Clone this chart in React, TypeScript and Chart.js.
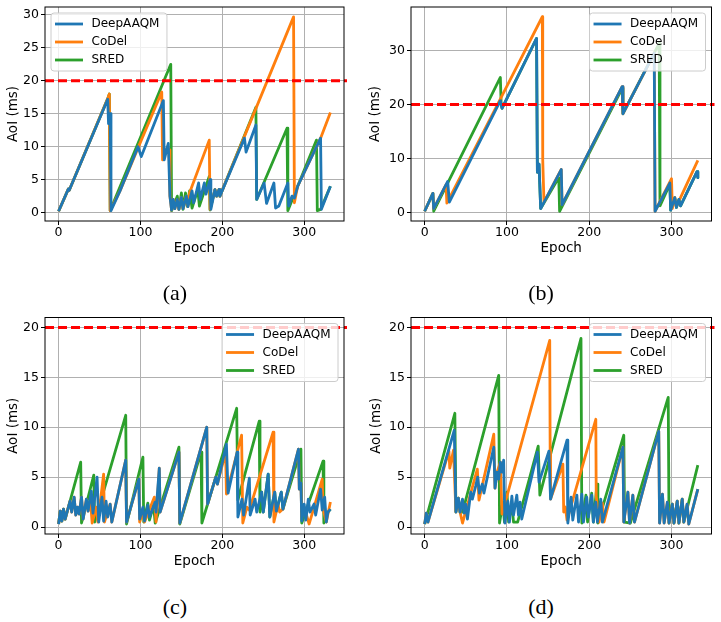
import React, { useEffect, useRef } from "react";
import { Chart, registerables } from "chart.js";

Chart.register(...registerables);

type Pt = [number, number];

// ---------- data ----------
const SERIES_NAMES = ["DeepAAQM", "CoDel", "SRED"];
const THRESHOLD_MS = 20;
const X_TICKS = [0, 100, 200, 300];
const Y_TICKS_A = [0, 5, 10, 15, 20, 25, 30];
const Y_TICKS_B = [0, 10, 20, 30];
const Y_TICKS_CD = [0, 5, 10, 15, 20];
const CAPTIONS = ["(a)", "(b)", "(c)", "(d)"];

const A_DEEPAAQM: Pt[] = [[0,0.2],[12,3.6],[13,3.4],[60,17.2],[61,13.5],[63,15],[64,0.3],[75,3.3],[97,10],[101,8.5],[128,17],[129,8],[134,10.5],[136,2.5],[138,0.4],[140,2],[142,0.6],[145,2],[147,0.5],[150,2.3],[152,0.6],[156,2.5],[158,0.9],[163,3.3],[165,1.5],[171,4.5],[173,2],[178,4.5],[180,2.8],[185,5],[186,0.5],[191,3.5],[193,2.5],[196,3.5],[197,2.5],[227,11.3],[229,9.2],[241,13.3],[242,2],[251,4.5],[254,1.4],[263,4.5],[265,0.7],[269,1],[280,4.5],[281,1],[285,2.5],[288,2.2],[292,4],[320,11.3],[321,0.5],[332,4]];
const A_CODEL: Pt[] = [[0,0.2],[12,3.6],[13,3.4],[60,17.3],[62,18],[63,0.3],[75,3.3],[100,10.7],[126,18.3],[127,8],[133,10],[135,9.5],[136,2.5],[138,0.4],[140,2],[142,0.6],[145,2],[147,0.5],[150,2.3],[152,0.6],[156,2.5],[158,0.9],[160,3],[184,11],[185,0.5],[191,3.5],[193,2.5],[196,3.5],[197,2.5],[287,29.7],[288,1.5],[292,4],[320,11.3],[332,15.2]];
const A_SRED: Pt[] = [[0,0.2],[12,3.6],[13,3.4],[60,17.3],[62,18],[63,0.3],[137,22.5],[138,0.3],[145,2.5],[147,0.5],[150,3],[152,0.5],[155,3],[157,1],[160,3.3],[163,0.7],[170,3.5],[172,1],[184,5.5],[185,0.4],[191,3.5],[193,2.5],[196,3.5],[197,2.5],[241,16],[242,2],[279,12.8],[280,0.3],[292,4],[315,11],[316,0.3],[320,0.5],[332,4]];

const B_DEEPAAQM: Pt[] = [[0,0.3],[10,3.6],[11,0.8],[28,5.8],[30,2],[92,20.7],[94,19.3],[136,32.2],[137,7.5],[139,9],[141,0.8],[166,8],[167,1.5],[240,23.3],[241,18.3],[279,29.5],[280,0.3],[298,5.5],[299,0.5],[304,2.8],[306,1],[309,2.5],[311,1.3],[331,7.6],[332,6.5]];
const B_CODEL: Pt[] = [[0,0.3],[10,3.6],[11,0.8],[26,5.2],[27,1.8],[93,21.3],[143,36.2],[143.5,9.8],[145,2],[166,8],[167,1.5],[240,23.3],[241,18.3],[279,29.5],[280,0.3],[300,6.3],[301,0.8],[304,2.8],[306,1.2],[332,9.7]];
const B_SRED: Pt[] = [[0,0.3],[10,3.6],[11,0.3],[92,25],[93,20],[94,19.3],[136,32.2],[137,7.5],[139,9],[141,0.8],[163,6.5],[164,0.3],[240,23],[241,18.3],[285,31.3],[286,1.3],[298,5.3],[299,0.5],[304,2.8],[306,1],[309,2.5],[311,1.3],[331,7.6],[332,6.5]];

const C_DEEPAAQM: Pt[] = [[0,0.3],[2,1.6],[4,0.6],[6,1.8],[8,0.8],[14,2.6],[16,1.5],[19,3],[21,1.2],[23,2],[25,1.3],[28,3],[30,0.8],[34,2.8],[36,1.6],[40,3.6],[42,1.4],[47,5],[49,0.5],[53,3],[55,0.6],[58,2.6],[60,1],[63,2.3],[65,0.5],[82,6.7],[83,0.5],[98,4.8],[99,0.8],[103,2],[105,0.6],[109,2.2],[111,1],[118,2.5],[119,1.5],[123,5.9],[124,1.5],[147,7.5],[148,0.4],[181,10],[182,2.3],[192,5],[194,4.3],[205,8.3],[207,3.4],[218,7.5],[219,1],[224,2.8],[226,1.2],[233,4.9],[234,1.2],[240,2.8],[242,1.5],[248,3.5],[250,1.5],[256,5.3],[258,1],[264,3.5],[266,1.6],[272,3.5],[274,1.8],[293,7.8],[294,3.8],[296,4.4],[297,0.6],[300,2.3],[302,0.7],[305,2.8],[307,1.5],[312,2.3],[314,1.2],[320,3.8],[322,1.7],[325,3],[327,0.5],[329,1.5],[332,1.8]];
const C_CODEL: Pt[] = [[0,0.3],[2,1.6],[4,0.6],[6,1.8],[8,0.8],[14,2.6],[16,1.5],[19,3],[21,1.2],[23,2],[25,1.3],[28,3],[30,0.8],[34,2.8],[36,1.6],[39,2.6],[41,0.4],[46,2],[48,0.5],[55,5.3],[56,0.5],[63,2.3],[65,0.5],[82,6.7],[83,0.5],[98,4.8],[99,0.5],[103,1.5],[105,0.5],[117,3],[119,0.5],[123,5.9],[124,1.5],[147,7.5],[148,0.4],[181,10],[182,2.3],[192,5],[194,4.3],[204,7.5],[205,3.3],[223.5,9.2],[225,0.4],[230,2],[233,1.7],[262,9.5],[263,0.5],[268,2.3],[270,1.5],[274,1.8],[293,7.8],[294,3.8],[296,4.4],[297,1],[300,2],[306,0.3],[322,4.8],[323,1.8],[327,0.5],[332,2.5]];
const C_SRED: Pt[] = [[0,0.3],[2,1.6],[4,0.6],[6,1.8],[8,0.8],[27,6.5],[28,0.4],[43,5.2],[44,0.5],[82,11.2],[83,0.3],[103,7],[104,0.5],[109,2.4],[111,0.7],[116,2.2],[118,0.4],[147,8],[148,0.3],[174,7.5],[175,0.4],[217.5,11.9],[219,2.7],[245,10.6],[246,1.5],[248,3.5],[250,1.5],[256,5.3],[258,1],[264,3.5],[266,1.6],[272,3.5],[274,1.8],[296,7.8],[297,0.4],[323,6.6],[324,0.4],[329,1.5],[332,1.8]];

const D_DEEPAAQM: Pt[] = [[0,0.3],[2,1.4],[4,0.5],[36,9.7],[38,1.5],[41,2.9],[43,1.5],[46,2.8],[48,1.4],[50,2.3],[52,0.8],[56,3.5],[58,2.8],[62,4.1],[64.5,5],[66.5,3.4],[70,4.3],[72,3.4],[84,8],[85.5,3.9],[88,5.5],[90,4.8],[92,6.5],[94,5.5],[96,6.7],[97.5,0.4],[101,2.6],[103,0.5],[106,3.1],[108,1.2],[112,3.2],[114,1.2],[116,2.5],[118,0.8],[137,7.5],[139,4.5],[151,7.6],[153,2.8],[173,8.7],[174,0.4],[178,3],[180,0.7],[185,3.2],[187,0.5],[191,3.3],[193,0.5],[197,3],[199,1],[203,3.2],[205,0.5],[208,2.5],[210,0.5],[214,2.8],[216,0.5],[241,8],[242,0.5],[247,3.5],[249,0.4],[253,3.2],[255,0.5],[284.5,9.6],[285.5,0.4],[289,3.3],[291,0.4],[295,2.5],[297,0.4],[301,2.3],[303,0.4],[307,2.6],[309,0.4],[313,2.8],[315,0.5],[319,2.3],[321,0.3],[332,3.8]];
const D_CODEL: Pt[] = [[0,0.3],[2,1.4],[4,0.5],[29.5,7.6],[30.5,5.9],[35,7.7],[38,1.5],[41,2.9],[43,1.5],[46,0.4],[64,5.8],[66,2.7],[84,9.3],[85.5,3.9],[88,5.5],[92,6.5],[94,1.3],[152,18.7],[152.5,7.8],[153,2.8],[168,6.3],[169,1.5],[171,2],[173,0.7],[208,10.8],[208.5,3.1],[212,0.5],[216,2.4],[218,0.5],[241,8],[242,0.5],[247,3.5],[249,0.4],[253,3.2],[255,0.5],[284.5,9.6],[285.5,0.4],[289,3.3],[291,0.4],[295,2.5],[297,0.4],[301,2.3],[303,0.4],[307,2.6],[309,0.4],[313,2.8],[315,0.5],[319,2.3],[321,0.3],[332,3.8]];
const D_SRED: Pt[] = [[0,0.3],[36.7,11.4],[38,1.5],[41,2.9],[43,1.5],[46,1.5],[90,15.2],[91,0.4],[95,2.5],[97,0.5],[100,3.5],[102,0.5],[106,2.3],[108,0.5],[113,0.5],[138,8.1],[140,3.2],[190,18.9],[191,0.4],[196,3.2],[198,0.5],[203,3.4],[205,0.5],[209.5,4.3],[210.5,0.4],[242,9.2],[243,0.5],[250,0.4],[296,13],[297,0.4],[301,2.3],[303,0.4],[307,2.6],[309,0.4],[313,2.8],[315,0.5],[332,6.2]];

// ---------- styles / layout ----------
const COLORS = ["#1f77b4", "#ff7f0e", "#2ca02c"];
const FONT = "DejaVu Sans";
const TICK_SIZE = 12.5;
const TITLE_SIZE = 13.5;
const LEGEND_SIZE = 12;
const LINE_W = 2.8;

type PanelCfg = {
  rect: [number, number, number, number];
  area: [number, number, number, number];
  xRange: [number, number];
  yRange: [number, number];
  yTicks: number[];
  series: Pt[][];
  legend: "left" | "right";
  yTitleX: number;
  xTitleY: number;
  caption: string;
  capX: number;
  capY: number;
};

const PANELS: PanelCfg[] = [
  { rect: [0, 0, 360, 262], area: [45, 7, 344, 221], xRange: [-16.6, 348.6], yRange: [-1.27, 31.2], yTicks: Y_TICKS_A, series: [A_DEEPAAQM, A_CODEL, A_SRED], legend: "left", yTitleX: 13, xTitleY: 248, caption: CAPTIONS[0], capX: 175, capY: 293 },
  { rect: [360, 0, 361, 262], area: [411, 7, 711.5, 221], xRange: [-16.6, 348.6], yRange: [-1.5, 38], yTicks: Y_TICKS_B, series: [B_DEEPAAQM, B_CODEL, B_SRED], legend: "right", yTitleX: 375, xTitleY: 248, caption: CAPTIONS[1], capX: 541, capY: 293 },
  { rect: [0, 300, 360, 276], area: [45, 317.5, 344, 534], xRange: [-16.6, 348.6], yRange: [-0.7, 21], yTicks: Y_TICKS_CD, series: [C_DEEPAAQM, C_CODEL, C_SRED], legend: "right", yTitleX: 13, xTitleY: 561.5, caption: CAPTIONS[2], capX: 175, capY: 607 },
  { rect: [360, 300, 361, 276], area: [411, 317.5, 711.5, 534], xRange: [-16.6, 348.6], yRange: [-0.7, 21], yTicks: Y_TICKS_CD, series: [D_DEEPAAQM, D_CODEL, D_SRED], legend: "right", yTitleX: 376, xTitleY: 561.5, caption: CAPTIONS[3], capX: 541, capY: 607 },
];

function drawLegend(chart: any, side: "left" | "right") {
  const { ctx, chartArea } = chart;
  ctx.save();
  ctx.font = `${LEGEND_SIZE}px "${FONT}"`;
  const textW = Math.max(...SERIES_NAMES.map((n) => ctx.measureText(n).width));
  const w = 4 + 28 + 8.5 + textW + 7.5;
  const h = 58;
  const x0 = side === "left" ? chartArea.left + 6 : chartArea.right - 6 - w;
  const y0 = chartArea.top + 6;
  const r = 3;
  ctx.beginPath();
  ctx.moveTo(x0 + r, y0);
  ctx.lineTo(x0 + w - r, y0);
  ctx.arcTo(x0 + w, y0, x0 + w, y0 + r, r);
  ctx.lineTo(x0 + w, y0 + h - r);
  ctx.arcTo(x0 + w, y0 + h, x0 + w - r, y0 + h, r);
  ctx.lineTo(x0 + r, y0 + h);
  ctx.arcTo(x0, y0 + h, x0, y0 + h - r, r);
  ctx.lineTo(x0, y0 + r);
  ctx.arcTo(x0, y0, x0 + r, y0, r);
  ctx.closePath();
  ctx.fillStyle = "rgba(255,255,255,0.8)";
  ctx.fill();
  ctx.strokeStyle = "#cccccc";
  ctx.lineWidth = 1;
  ctx.stroke();
  SERIES_NAMES.forEach((name, i) => {
    const y = y0 + 11 + 18 * i;
    ctx.beginPath();
    ctx.strokeStyle = COLORS[i];
    ctx.lineWidth = LINE_W;
    ctx.moveTo(x0 + 4, y);
    ctx.lineTo(x0 + 32, y);
    ctx.stroke();
    ctx.fillStyle = "#000";
    ctx.textBaseline = "middle";
    ctx.textAlign = "left";
    ctx.fillText(name, x0 + 40.5, y);
  });
  ctx.restore();
}

function Panel({ cfg }: { cfg: PanelCfg }) {
  const ref = useRef<HTMLCanvasElement>(null);
  const [L, T, W, H] = cfg.rect;
  const [cl, ct, cr, cb] = cfg.area;

  useEffect(() => {
    if (!ref.current) return;
    const lineH = TITLE_SIZE * 1.2;
    const xAxisH = T + H - cb;
    const yAxisW = cl - L;
    const plugin = {
      id: "extras",
      afterDatasetsDraw(chart: any) {
        const { ctx, chartArea, scales } = chart;
        const y = scales.y.getPixelForValue(THRESHOLD_MS);
        ctx.save();
        ctx.strokeStyle = "#ff0000";
        ctx.lineWidth = 3;
        ctx.setLineDash([9, 4]);
        ctx.beginPath();
        ctx.moveTo(chartArea.left, y);
        ctx.lineTo(chartArea.right + 3, y);
        ctx.stroke();
        ctx.restore();
      },
      afterDraw(chart: any) {
        const { ctx, chartArea } = chart;
        ctx.save();
        ctx.strokeStyle = "#000";
        ctx.lineWidth = 1;
        ctx.strokeRect(chartArea.left, chartArea.top, chartArea.right - chartArea.left, chartArea.bottom - chartArea.top);
        ctx.restore();
        drawLegend(chart, cfg.legend);
      },
    };
    const chart = new Chart(ref.current, {
      type: "line",
      data: {
        datasets: cfg.series.map((pts, i) => ({
          label: SERIES_NAMES[i],
          data: pts.map(([x, y]) => ({ x, y })),
          borderColor: COLORS[i],
          backgroundColor: COLORS[i],
          borderWidth: LINE_W,
          pointRadius: 0,
          fill: false,
          tension: 0,
          borderJoinStyle: "round" as const,
        })),
      },
      options: {
        animation: false,
        responsive: false,
        maintainAspectRatio: false,
        devicePixelRatio: 1,
        layout: { padding: { top: ct - T, right: L + W - cr, left: 0, bottom: 0 } },
        plugins: { legend: { display: false }, tooltip: { enabled: false } },
        scales: {
          x: {
            type: "linear",
            min: cfg.xRange[0],
            max: cfg.xRange[1],
            afterBuildTicks: (s: any) => { s.ticks = X_TICKS.map((v) => ({ value: v })); },
            afterFit: (s: any) => { s.height = xAxisH; s.paddingLeft = 0; s.paddingRight = 0; s.paddingTop = 0; s.paddingBottom = 0; },
            grid: { color: "#b0b0b0", lineWidth: 1, tickColor: "#000", tickLength: 4, drawTicks: true },
            border: { display: false },
            ticks: { color: "#000", font: { family: FONT, size: TICK_SIZE }, padding: 0, maxRotation: 0, autoSkip: false },
            title: { display: true, text: "Epoch", color: "#000", font: { family: FONT, size: TITLE_SIZE }, padding: { top: 0, bottom: T + H - cfg.xTitleY - lineH / 2 } },
          },
          y: {
            type: "linear",
            min: cfg.yRange[0],
            max: cfg.yRange[1],
            afterBuildTicks: (s: any) => { s.ticks = cfg.yTicks.map((v) => ({ value: v })); },
            afterFit: (s: any) => { s.width = yAxisW; s.paddingLeft = 0; s.paddingRight = 0; s.paddingTop = 0; s.paddingBottom = 0; },
            grid: { color: "#b0b0b0", lineWidth: 1, tickColor: "#000", tickLength: 4, drawTicks: true },
            border: { display: false },
            ticks: { color: "#000", font: { family: FONT, size: TICK_SIZE }, padding: 2, autoSkip: false },
            title: { display: true, text: "AoI (ms)", color: "#000", font: { family: FONT, size: TITLE_SIZE }, padding: { top: cfg.yTitleX - L - lineH / 2, bottom: 0 } },
          },
        },
      },
      plugins: [plugin],
    } as any);
    return () => chart.destroy();
  }, []);

  return (
    <canvas
      ref={ref}
      width={W}
      height={H}
      style={{ position: "absolute", left: L, top: T, width: W, height: H }}
    />
  );
}

export default function App() {
  return (
    <div style={{ position: "fixed", left: 0, top: 0, width: 721, height: 622, background: "#fff", overflow: "hidden" }}>
      {PANELS.map((p, i) => (
        <Panel key={i} cfg={p} />
      ))}
      {PANELS.map((p, i) => (
        <div
          key={"c" + i}
          style={{
            position: "absolute",
            left: p.capX - 40,
            top: p.capY - 14,
            width: 80,
            height: 28,
            lineHeight: "28px",
            textAlign: "center",
            fontFamily: '"Liberation Serif", serif',
            fontSize: 22,
            color: "#000",
          }}
        >
          {p.caption}
        </div>
      ))}
    </div>
  );
}
